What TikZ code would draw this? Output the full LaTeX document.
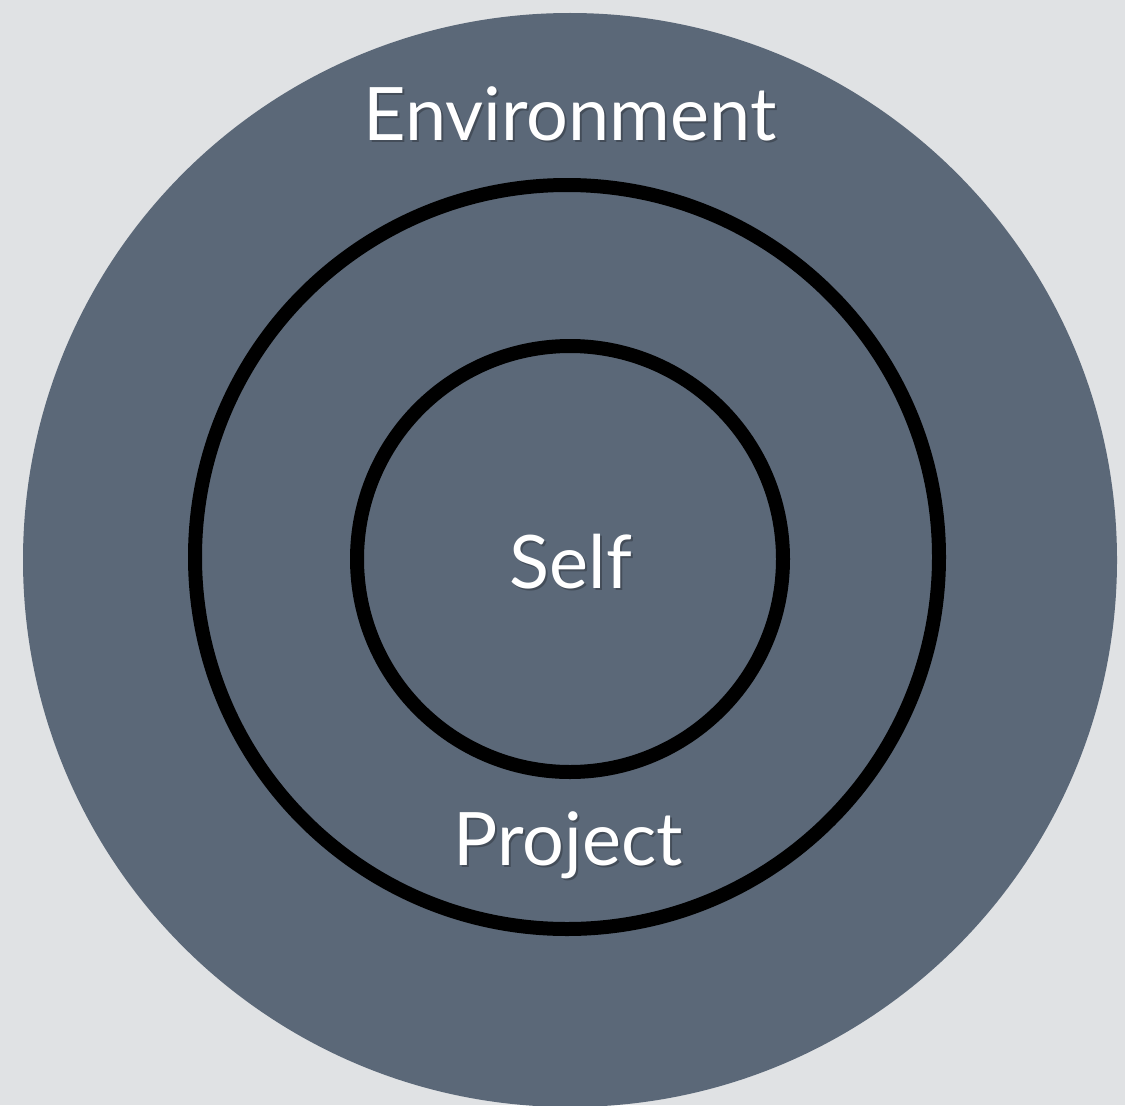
\documentclass[tikz,border=0pt]{standalone}
\usepackage{fontspec}
\setmainfont{Lato}
\definecolor{paper}{RGB}{224,226,228}
\definecolor{slate}{RGB}{91,104,120}
\begin{document}
\begin{tikzpicture}[x=0.02cm,y=-0.02cm,
  ring/.style={draw=black,line width=0.28cm},
  label/.style={text=white,font=\fontsize{42}{50}\selectfont,anchor=base},
  labelshadow/.style={text=black,opacity=0.25,font=\fontsize{42}{50}\selectfont,anchor=base}]
  % page
  \fill[paper] (0,0) rectangle (1125,1105);
  \useasboundingbox (0,0) rectangle (1125,1105);
  \begin{scope}
    \clip (0,0) rectangle (1125,1105);
    \fill[slate] (570,560) circle (547);
  \end{scope}
  % rings
  \draw[ring] (567,557) circle (372);
  \draw[ring] (570,559) circle (213);
  % labels with soft drop shadow
  \node[labelshadow] (envs) at (572,142) {Environment};
  \node[label] (env) at (570,140) {Environment};
  \node[labelshadow] (selfs) at (573,590) {Self};
  \node[label] (self) at (571,588) {Self};
  \node[labelshadow] (projs) at (570,867) {Project};
  \node[label] (proj) at (568,865) {Project};
\end{tikzpicture}
\end{document}
